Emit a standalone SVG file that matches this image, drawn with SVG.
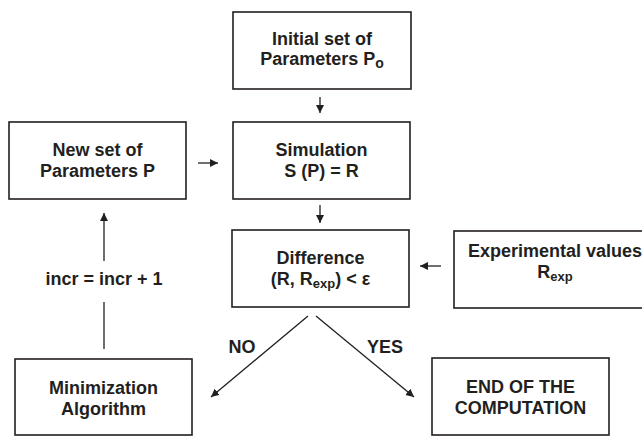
<svg xmlns="http://www.w3.org/2000/svg" width="642" height="436" viewBox="0 0 642 436">
  <style>
    .box { fill: #ffffff; stroke: #231f20; stroke-width: 1.6; }
    .t { font-family: "Liberation Sans", Arial, sans-serif; font-weight: bold; font-size: 18px; fill: #231f20; text-anchor: middle; }
    .conn { stroke: #231f20; stroke-width: 1.3; fill: none; }
    .arr { marker-end: url(#ah); }
  </style>
  <defs>
    <marker id="ah" markerUnits="userSpaceOnUse" markerWidth="9" markerHeight="9" refX="8" refY="4" orient="auto">
      <path d="M0,0 L8,4 L0,8 z" fill="#231f20"/>
    </marker>
  </defs>
  <rect width="642" height="436" fill="#ffffff"/>

  <g id="connectors">
    <line class="conn arr" x1="320" y1="97" x2="320" y2="113"/>
    <line class="conn arr" x1="198" y1="163" x2="218" y2="163"/>
    <line class="conn arr" x1="320" y1="205" x2="320" y2="223"/>
    <line class="conn arr" x1="441" y1="266" x2="420" y2="266"/>
    <line class="conn arr" x1="104" y1="261" x2="104" y2="213"/>
    <line class="conn" x1="104" y1="349" x2="104" y2="302"/>
    <line class="conn arr" x1="308" y1="316" x2="211" y2="397"/>
    <line class="conn arr" x1="316" y1="316" x2="414" y2="397"/>
    <text class="t" x="104" y="285">incr = incr + 1</text>
    <text class="t" x="242" y="353">NO</text>
    <text class="t" x="385" y="353">YES</text>
  </g>

  <g id="initial">
    <rect class="box" x="233" y="12" width="178" height="77"/>
    <text class="t" x="322" y="45">Initial set of</text>
    <text class="t" x="322" y="65">Parameters P<tspan font-size="14" dy="3">o</tspan></text>
  </g>

  <g id="newset">
    <rect class="box" x="9" y="122" width="177" height="77"/>
    <text class="t" x="97.5" y="156">New set of</text>
    <text class="t" x="97.5" y="177">Parameters P</text>
  </g>

  <g id="simulation">
    <rect class="box" x="233" y="122" width="177" height="77"/>
    <text class="t" x="321.5" y="156">Simulation</text>
    <text class="t" x="321.5" y="177">S (P) = R</text>
  </g>

  <g id="difference">
    <rect class="box" x="232" y="230" width="177" height="77"/>
    <text class="t" x="320.5" y="264">Difference</text>
    <text class="t" x="320.5" y="285">(R, R<tspan font-size="13" dy="3">exp</tspan><tspan dy="-3">) &lt; ε</tspan></text>
  </g>

  <g id="experimental">
    <rect class="box" x="454" y="231" width="202" height="77"/>
    <text class="t" x="555" y="257">Experimental values</text>
    <text class="t" x="555" y="278">R<tspan font-size="13" dy="3">exp</tspan></text>
  </g>

  <g id="minimization">
    <rect class="box" x="15" y="359" width="177" height="76"/>
    <text class="t" x="103.5" y="394">Minimization</text>
    <text class="t" x="103.5" y="415">Algorithm</text>
  </g>

  <g id="end">
    <rect class="box" x="432" y="358" width="177" height="77"/>
    <text class="t" x="520.5" y="393">END OF THE</text>
    <text class="t" x="520.5" y="414">COMPUTATION</text>
  </g>
</svg>
